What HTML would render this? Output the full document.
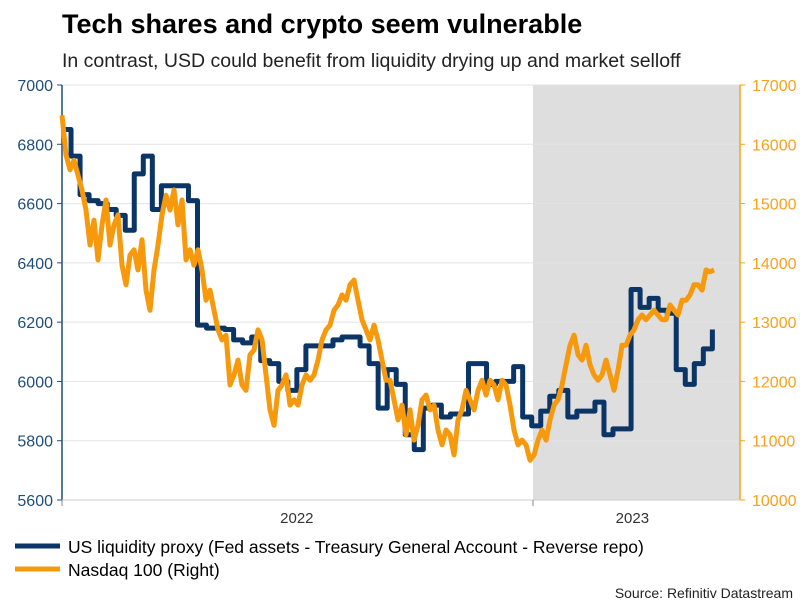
<!DOCTYPE html>
<html><head><meta charset="utf-8"><style>
body{margin:0;background:#fff;font-family:"Liberation Sans",sans-serif;}
svg text{font-family:"Liberation Sans",sans-serif;}
</style></head><body>
<svg id="chart" width="805" height="604" xmlns="http://www.w3.org/2000/svg">
<text x="62" y="33" font-size="27" font-weight="bold" fill="#000">Tech shares and crypto seem vulnerable</text>
<text x="62" y="67" font-size="19.5" fill="#222">In contrast, USD could benefit from liquidity drying up and market selloff</text>
<rect x="533" y="85" width="207" height="415" fill="#dedede"/>
<g id="grid"></g>
<g id="axes"></g>
<g id="series"></g>
<g>
<line x1="15" y1="546" x2="60" y2="546" stroke="#0b3566" stroke-width="5"/>
<text x="68" y="553" font-size="17.5" fill="#000">US liquidity proxy (Fed assets - Treasury General Account - Reverse repo)</text>
<line x1="15" y1="569" x2="60" y2="569" stroke="#f7990c" stroke-width="5"/>
<text x="68" y="576" font-size="17.5" fill="#000">Nasdaq 100 (Right)</text>
</g>
<text x="793" y="598" font-size="14" text-anchor="end" fill="#222">Source: Refinitiv Datastream</text>
</svg>
<script>
const leftTicks=[5600,5800,6000,6200,6400,6600,6800,7000];
const rightTicks=[10000,11000,12000,13000,14000,15000,16000,17000];
const yearLabels=["2022","2023"];
const yearDays=[182,442];
const blueWeekly=[6850,6760,6630,6610,6600,6580,6560,6510,6700,6760,6580,6660,6660,6660,6610,6190,6180,6180,6175,6140,6130,6150,6070,6060,6000,5970,6040,6120,6120,6120,6140,6150,6150,6120,6060,5910,6040,5990,5820,5770,5910,5920,5880,5890,5890,6060,6060,5990,6000,6000,6050,5880,5850,5900,5950,5970,5880,5900,5900,5930,5820,5840,5840,6310,6250,6280,6240,6230,6040,5990,6060,6110,6175];
const nasdaq=[16490,15820,15570,15730,15480,15230,14890,14300,14720,14050,14640,15060,14300,14640,14810,13960,13630,14130,14220,13880,14390,13540,13200,13880,14300,14810,15140,14890,15230,14640,15060,14050,14220,13960,14220,13880,13370,13540,13200,12870,12700,12780,11940,12110,12360,11940,11850,12450,12530,12870,12700,12110,11520,11260,11850,11940,12110,11600,11690,11600,11940,12110,12020,12110,12360,12700,12870,12950,13200,13290,13460,13370,13630,13710,13370,13040,12870,12700,12950,12700,12360,12020,12020,11690,11350,11600,11100,11520,11010,11260,11690,11770,11520,11600,11180,10930,11180,11100,10760,11350,11520,11850,11690,11520,11850,12020,11770,12020,11940,11690,12020,11940,11600,11180,10930,11010,10930,10670,10760,11010,11180,11010,11350,11600,11690,11940,12280,12610,12780,12450,12360,12610,12280,12110,12020,12110,12360,12110,11850,12190,12610,12610,12780,12870,13040,13120,13040,13120,13200,13120,13040,13040,13290,13200,13120,13370,13370,13460,13630,13630,13540,13880,13850,13880];
const nasdaqStepDays=3.1;
const X0=62,X1=740,Y0=85,Y1=500;
const xDay=d=>X0+d*(533-X0)/365;
const yL=v=>Y1-(v-5600)/1400*(Y1-Y0);
const yR=v=>Y1-(v-10000)/7000*(Y1-Y0);
const NS="http://www.w3.org/2000/svg";
function mk(tag,attrs,parent){const e=document.createElementNS(NS,tag);for(const k in attrs)e.setAttribute(k,attrs[k]);document.getElementById(parent).appendChild(e);return e;}
leftTicks.forEach((t,i)=>{
 const g=mk('line',{x1:X0,x2:X1,y1:yL(t),y2:yL(t),stroke:'#e3e3e3','stroke-width':1},'grid');
 
 
 const l=mk('text',{x:X0-9,y:yL(t)+6,'font-size':16,'text-anchor':'end',fill:'#1f4e79'},'axes');
 l.textContent=t;
 
 
 const tk=mk('line',{x1:X0-5,x2:X0,y1:yL(t),y2:yL(t),stroke:'#1f4e79'},'axes');
 
 
});
rightTicks.forEach(t=>{
 const l=mk('text',{x:X1+12,y:yR(t)+6,'font-size':16,fill:'#f7a21b'},'axes');
 l.textContent=t;
 
 
 const tk=mk('line',{x1:X1,x2:X1+5,y1:yR(t),y2:yR(t),stroke:'#f7a21b'},'axes');
 
 
});
const la=mk('line',{x1:X0,x2:X0,y1:Y0,y2:Y1,stroke:'#1f4e79','stroke-width':1.5},'axes');


const ra=mk('line',{x1:X1,x2:X1,y1:Y0,y2:Y1,stroke:'#f7a21b','stroke-width':1.5},'axes');


const xa=mk('line',{x1:X0,x2:X1,y1:Y1,y2:Y1,stroke:'#ccc'},'axes');


[0,365].forEach(d=>{const t=mk('line',{x1:xDay(d),x2:xDay(d),y1:Y1,y2:Y1+6,stroke:'#888'},'axes');
 
 });
yearLabels.forEach((y,i)=>{const t=mk('text',{x:xDay(yearDays[i]),y:523,'font-size':15,'text-anchor':'middle',fill:'#333'},'axes');
 t.textContent=y;
 
 });
let d='';
blueWeekly.forEach((v,i)=>{const x=xDay(i*7);if(i===0)d+=`M${x},${yL(v)}`;else d+=`L${x},${yL(blueWeekly[i-1])}L${x},${yL(v)}`;});
const bp=mk('path',{d:d,fill:'none',stroke:'#0b3566','stroke-width':5,'stroke-linejoin':'round'},'series');


const od=nasdaq.map((v,i)=>(i?'L':'M')+xDay(i*nasdaqStepDays)+','+yR(v)).join('');
const op=mk('path',{d:od,fill:'none',stroke:'#f7990c','stroke-width':5,'stroke-linejoin':'round'},'series');


</script>
</body></html>
